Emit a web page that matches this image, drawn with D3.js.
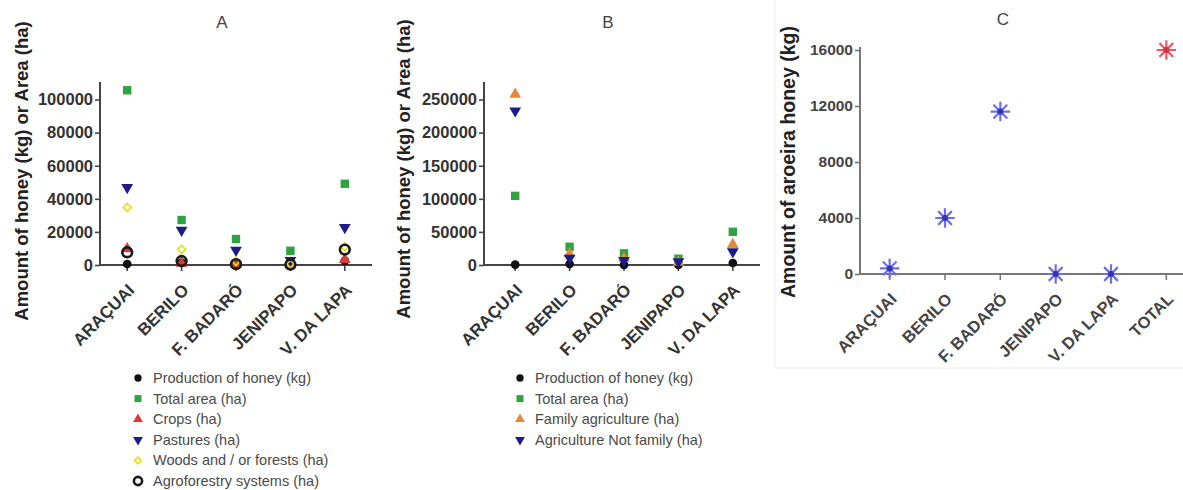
<!DOCTYPE html>
<html>
<head>
<meta charset="utf-8">
<script src="https://cdn.jsdelivr.net/npm/d3@7"></script>
<style>
  body { margin: 0; background: #fff; }
  svg { display: block; }
  text { font-family: "Liberation Sans", Arial, sans-serif; }
</style>
</head>
<body>
<svg id="chart" width="1183" height="490"></svg>
<script>
// Municipalities
const categories = ["ARAÇUAI", "BERILO", "F. BADARÓ", "JENIPAPO", "V. DA LAPA"];
const categoriesC = ["ARAÇUAI", "BERILO", "F. BADARÓ", "JENIPAPO", "V. DA LAPA", "TOTAL"];

// Panel A: honey production and land use
const honeyProductionA = [600, 1500, 300, 100, 2500];
const totalAreaA       = [105600, 27200, 15700, 8600, 49100];
const cropsA           = [9800, 1000, 600, 300, 3200];
const pasturesA        = [46900, 21100, 9000, 2800, 22700];
const woodsA           = [34800, 9500, 2200, 600, 11000];
const agroforestryA    = [7700, 2400, 500, 300, 9300];
const ticksA = [0, 20000, 40000, 60000, 80000, 100000];

// Panel B: honey production and agriculture type
const honeyProductionB = [600, 1500, 300, 100, 3000];
const totalAreaB       = [104500, 27600, 17600, 9500, 50200];
const familyAgriB      = [258000, 17000, 10000, 4000, 31000];
const notFamilyAgriB   = [233000, 10500, 7000, 5000, 20000];
const ticksB = [0, 50000, 100000, 150000, 200000, 250000];

// Panel C: aroeira honey
const aroeiraHoney = [400, 4000, 11600, 0, 0, 16000];
const ticksC = [0, 4000, 8000, 12000, 16000];

const svg = d3.select("#chart");

const C_NAVY = "#1d1d8a", C_GREEN = "#2fa33f", C_RED = "#d63a3a",
      C_YELLOW = "#e4e41c", C_ORANGE = "#e5883a", C_BLACK = "#111";

// eight-armed asterisk symbol
const star8 = {
  draw(ctx, size) {
    const r = Math.sqrt(size) / 2;
    for (let i = 0; i < 4; i++) {
      const a = i * Math.PI / 4;
      const dx = r * Math.cos(a), dy = r * Math.sin(a);
      ctx.moveTo(-dx, -dy);
      ctx.lineTo(dx, dy);
    }
  }
};

// square diamond (rotated square)
const squareDiamond = d3.symbolDiamond2 || {
  draw(ctx, size) {
    const r = Math.sqrt(size) * 0.62;
    ctx.moveTo(0, -r); ctx.lineTo(r, 0); ctx.lineTo(0, r); ctx.lineTo(-r, 0); ctx.closePath();
  }
};

function panel(o) {
  const g = svg.append("g");
  const x = d3.scaleBand().domain(o.categories).range([o.bandX0, o.bandX1]);
  const y = d3.scaleLinear().domain([0, o.yMax]).range([o.y0, o.yTop]);

  // y axis
  const ya = g.append("g").attr("transform", `translate(${o.axisX},0)`)
    .call(d3.axisLeft(y).tickValues(o.ticks).tickFormat(d3.format("d")).tickSize(5).tickSizeOuter(0));
  ya.select(".domain").remove();
  ya.selectAll(".tick line").attr("stroke", o.axisColor).attr("stroke-width", 1.6);
  ya.selectAll(".tick text").attr("x", -7).attr("fill", o.tickColor)
    .style("font-size", o.tickFont + "px").style("font-weight", "bold");
  g.append("line").attr("x1", o.axisX).attr("x2", o.axisX)
    .attr("y1", y(0)).attr("y2", o.yAxisTop)
    .attr("stroke", o.axisColor).attr("stroke-width", 2);

  // x axis
  const xa = g.append("g").attr("transform", `translate(0,${y(0)})`)
    .call(d3.axisBottom(x).tickSize(6).tickSizeOuter(0));
  xa.select(".domain").remove();
  xa.selectAll(".tick line").attr("stroke", o.axisColor).attr("stroke-width", 1.6);
  xa.selectAll(".tick text")
    .attr("x", 0).attr("y", 0).attr("dy", "0.35em")
    .attr("text-anchor", "end")
    .attr("transform", `translate(${o.labelDx},${o.labelDy}) rotate(-45)`)
    .attr("fill", o.tickColor)
    .style("font-size", o.xFont + "px").style("font-weight", "bold");
  g.append("line").attr("x1", o.axisX).attr("x2", o.xAxisEnd)
    .attr("y1", y(0)).attr("y2", y(0))
    .attr("stroke", o.axisColor).attr("stroke-width", 2);

  // title
  g.append("text").attr("x", o.titleX).attr("y", o.titleY)
    .attr("text-anchor", "middle").attr("fill", "#444")
    .style("font-size", "17px").text(o.title);

  // y label
  g.append("text")
    .attr("transform", `translate(${o.ylabX},${o.ylabY}) rotate(-90)`)
    .attr("text-anchor", "middle").attr("fill", "#222")
    .style("font-size", o.ylabFont + "px").style("font-weight", "bold")
    .text(o.ylabel);

  return { g, x, y };
}

function drawMarks(p, values, cats, style) {
  const sym = d3.symbol().type(style.type).size(style.size);
  p.g.append("g").selectAll("path").data(values).join("path")
    .attr("transform", (d, i) => `translate(${p.x(cats[i]) + p.x.bandwidth() / 2},${p.y(d)})${style.rot ? " rotate(180)" : ""}`)
    .attr("d", sym)
    .attr("fill", style.fill || "none")
    .attr("stroke", style.stroke || "none")
    .attr("stroke-width", style.sw || 0);
}

function legend(x, y, items) {
  const g = svg.append("g");
  items.forEach((it, i) => {
    const yy = y + i * 20.6;
    const sym = d3.symbol().type(it.type).size(it.size * 0.7);
    g.append("path")
      .attr("transform", `translate(${x},${yy})${it.rot ? " rotate(180)" : ""}`)
      .attr("d", sym)
      .attr("fill", it.fill || "none")
      .attr("stroke", it.stroke || "none")
      .attr("stroke-width", it.sw || 0);
    g.append("text").attr("x", x + 15).attr("y", yy).attr("dy", "0.35em")
      .attr("fill", "#4a4a4a").style("font-size", "14.5px").text(it.label);
  });
}

// ---------- Panel A ----------
const pA = panel({
  categories, bandX0: 100, bandX1: 372, axisX: 100, xAxisEnd: 372,
  y0: 265, yTop: 83, yMax: 110000, yAxisTop: 82, ticks: ticksA,
  axisColor: "#444", tickColor: "#333", tickFont: 16.5, xFont: 17,
  labelDx: 4, labelDy: 22,
  title: "A", titleX: 222, titleY: 28,
  ylabel: "Amount of honey (kg) or Area (ha)", ylabX: 28, ylabY: 171, ylabFont: 18.5
});

const stylesA = {
  honey: { type: d3.symbolCircle, size: 60, fill: C_BLACK, label: "Production of honey (kg)" },
  total: { type: d3.symbolSquare, size: 70, fill: C_GREEN, label: "Total area (ha)" },
  crops: { type: d3.symbolTriangle, size: 60, fill: C_RED, label: "Crops (ha)" },
  past:  { type: d3.symbolTriangle, size: 60, fill: C_NAVY, rot: true, label: "Pastures (ha)" },
  woods: { type: squareDiamond, size: 40, stroke: C_YELLOW, sw: 1.8, label: "Woods and / or forests (ha)" },
  agro:  { type: d3.symbolCircle, size: 75, stroke: "#1a1a1a", sw: 2.6, label: "Agroforestry systems (ha)" }
};

drawMarks(pA, honeyProductionA, categories, stylesA.honey);
drawMarks(pA, totalAreaA, categories, stylesA.total);
drawMarks(pA, cropsA, categories, stylesA.crops);
drawMarks(pA, pasturesA, categories, stylesA.past);
drawMarks(pA, woodsA, categories, stylesA.woods);
drawMarks(pA, agroforestryA, categories, stylesA.agro);

legend(138, 378, [stylesA.honey, stylesA.total, stylesA.crops, stylesA.past, stylesA.woods, stylesA.agro]);

// ---------- Panel B ----------
const pB = panel({
  categories, bandX0: 488, bandX1: 760, axisX: 484, xAxisEnd: 760,
  y0: 265, yTop: 83, yMax: 275000, yAxisTop: 82, ticks: ticksB,
  axisColor: "#444", tickColor: "#333", tickFont: 16.5, xFont: 17,
  labelDx: 4, labelDy: 22,
  title: "B", titleX: 608, titleY: 28,
  ylabel: "Amount of honey (kg) or Area (ha)", ylabX: 410, ylabY: 169, ylabFont: 18.5
});

const stylesB = {
  honey:  { type: d3.symbolCircle, size: 60, fill: C_BLACK, label: "Production of honey (kg)" },
  total:  { type: d3.symbolSquare, size: 70, fill: C_GREEN, label: "Total area (ha)" },
  family: { type: d3.symbolTriangle, size: 60, fill: C_ORANGE, label: "Family agriculture (ha)" },
  notfam: { type: d3.symbolTriangle, size: 60, fill: C_NAVY, rot: true, label: "Agriculture Not family (ha)" }
};

drawMarks(pB, honeyProductionB, categories, stylesB.honey);
drawMarks(pB, totalAreaB, categories, stylesB.total);
drawMarks(pB, familyAgriB, categories, stylesB.family);
drawMarks(pB, notFamilyAgriB, categories, stylesB.notfam);

legend(520, 378, [stylesB.honey, stylesB.total, stylesB.family, stylesB.notfam]);

// ---------- Panel C ----------
// faint frame of the inset panel
svg.append("path").attr("d", "M775,0 V368 H1183")
  .attr("fill", "none").attr("stroke", "#ececec").attr("stroke-width", 1);

const pC = panel({
  categories: categoriesC, bandX0: 862, bandX1: 1194, axisX: 860, xAxisEnd: 1183,
  y0: 274, yTop: 50, yMax: 16000, yAxisTop: 47, ticks: ticksC,
  axisColor: "#777", tickColor: "#444", tickFont: 15.5, xFont: 16.5,
  labelDx: 4, labelDy: 22,
  title: "C", titleX: 1003, titleY: 25,
  ylabel: "Amount of aroeira honey (kg)", ylabX: 795, ylabY: 162, ylabFont: 19.5
});

pC.g.append("g").selectAll("path").data(aroeiraHoney).join("path")
  .attr("transform", (d, i) => `translate(${pC.x(categoriesC[i]) + pC.x.bandwidth() / 2},${pC.y(d)})`)
  .attr("d", d3.symbol().type(star8).size(380))
  .attr("fill", "none")
  .attr("stroke", (d, i) => categoriesC[i] === "TOTAL" ? "#ee5a66" : "#6f6fe8")
  .attr("stroke-width", 2.2);
pC.g.append("g").selectAll("circle").data(aroeiraHoney).join("circle")
  .attr("cx", (d, i) => pC.x(categoriesC[i]) + pC.x.bandwidth() / 2)
  .attr("cy", d => pC.y(d))
  .attr("r", 3)
  .attr("fill", (d, i) => categoriesC[i] === "TOTAL" ? "#d8303f" : "#3535b0");
</script>
</body>
</html>
